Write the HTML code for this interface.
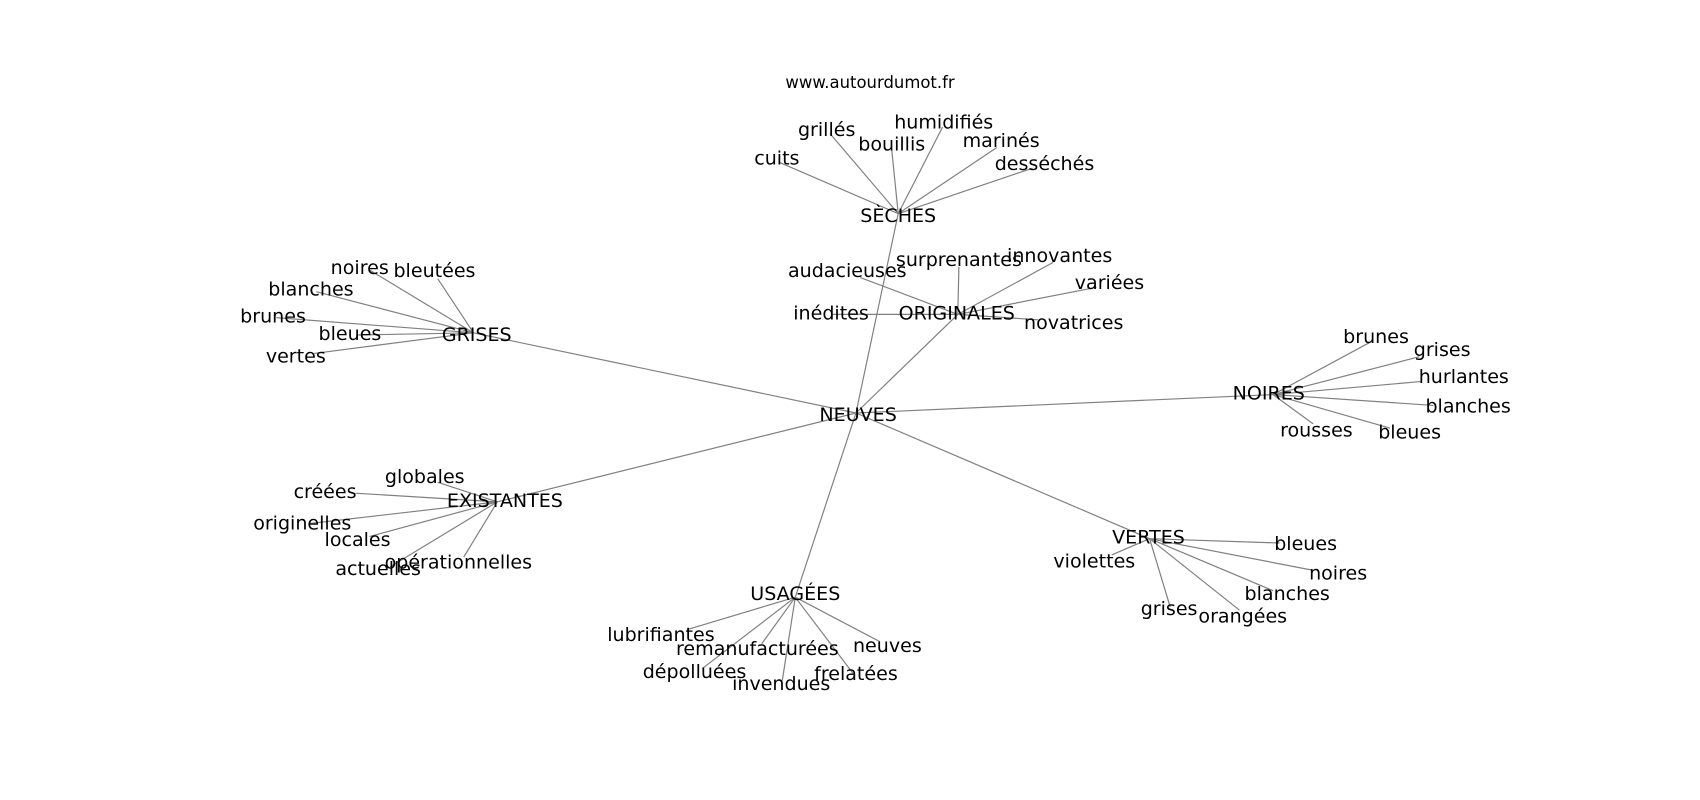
<!DOCTYPE html>
<html><head><meta charset="utf-8"><style>
html,body{margin:0;padding:0;background:#fff;}
svg{display:block}
text{font-family:"DejaVu Sans","Liberation Sans",sans-serif;font-size:17.6px;fill:#000;text-anchor:middle;dominant-baseline:central}
line{stroke:#808080;stroke-width:1.1}
</style></head><body>
<svg width="1700" height="800" viewBox="0 0 1569 738" xmlns="http://www.w3.org/2000/svg">
<g>
<line x1="790" y1="381" x2="829" y2="197"/>
<line x1="790" y1="381" x2="884" y2="290"/>
<line x1="790" y1="381" x2="437" y2="307"/>
<line x1="790" y1="381" x2="459" y2="463"/>
<line x1="790" y1="381" x2="734" y2="551"/>
<line x1="790" y1="381" x2="1061" y2="497"/>
<line x1="790" y1="381" x2="1175" y2="364"/>
<line x1="829" y1="197" x2="720" y2="150"/>
<line x1="829" y1="197" x2="766" y2="123"/>
<line x1="829" y1="197" x2="823" y2="138"/>
<line x1="829" y1="197" x2="870" y2="117"/>
<line x1="829" y1="197" x2="920" y2="136"/>
<line x1="829" y1="197" x2="953" y2="155"/>
<line x1="884" y1="290" x2="794" y2="256"/>
<line x1="884" y1="290" x2="885" y2="246"/>
<line x1="884" y1="290" x2="972" y2="242"/>
<line x1="884" y1="290" x2="1012" y2="265"/>
<line x1="884" y1="290" x2="768" y2="290"/>
<line x1="884" y1="290" x2="958" y2="295"/>
<line x1="437" y1="307" x2="341" y2="249"/>
<line x1="437" y1="307" x2="404" y2="257"/>
<line x1="437" y1="307" x2="292" y2="269"/>
<line x1="437" y1="307" x2="255" y2="293"/>
<line x1="437" y1="307" x2="329" y2="309"/>
<line x1="437" y1="307" x2="290" y2="326"/>
<line x1="459" y1="463" x2="404" y2="445"/>
<line x1="459" y1="463" x2="328" y2="455"/>
<line x1="459" y1="463" x2="286" y2="483"/>
<line x1="459" y1="463" x2="341" y2="495"/>
<line x1="459" y1="463" x2="360" y2="523"/>
<line x1="459" y1="463" x2="428" y2="514"/>
<line x1="734" y1="551" x2="634" y2="581"/>
<line x1="734" y1="551" x2="703" y2="594"/>
<line x1="734" y1="551" x2="648" y2="617"/>
<line x1="734" y1="551" x2="722" y2="628"/>
<line x1="734" y1="551" x2="787" y2="621"/>
<line x1="734" y1="551" x2="812" y2="592"/>
<line x1="1061" y1="497" x2="1181" y2="501"/>
<line x1="1061" y1="497" x2="1211" y2="526"/>
<line x1="1061" y1="497" x2="1175" y2="545"/>
<line x1="1061" y1="497" x2="1080" y2="560"/>
<line x1="1061" y1="497" x2="1144" y2="563"/>
<line x1="1061" y1="497" x2="1026" y2="512"/>
<line x1="1175" y1="364" x2="1264" y2="316"/>
<line x1="1175" y1="364" x2="1310" y2="329"/>
<line x1="1175" y1="364" x2="1311" y2="352"/>
<line x1="1175" y1="364" x2="1323" y2="374"/>
<line x1="1175" y1="364" x2="1283" y2="395"/>
<line x1="1175" y1="364" x2="1212" y2="391"/>
</g>
<text x="803" y="76" style="font-size:15.2px">www.autourdumot.fr</text>
<text x="792" y="383">NEUVES</text>
<text x="829" y="199">SÈCHES</text>
<text x="717" y="146">cuits</text>
<text x="763" y="120">grillés</text>
<text x="823" y="133">bouillis</text>
<text x="871" y="113">humidifiés</text>
<text x="924" y="130">marinés</text>
<text x="964" y="151">desséchés</text>
<text x="883" y="289">ORIGINALES</text>
<text x="782" y="250">audacieuses</text>
<text x="885" y="240">surprenantes</text>
<text x="978" y="236">innovantes</text>
<text x="1024" y="261">variées</text>
<text x="767" y="289">inédites</text>
<text x="991" y="298">novatrices</text>
<text x="440" y="309">GRISES</text>
<text x="332" y="247">noires</text>
<text x="401" y="250">bleutées</text>
<text x="287" y="267">blanches</text>
<text x="252" y="292">brunes</text>
<text x="323" y="308">bleues</text>
<text x="273" y="329">vertes</text>
<text x="466" y="462">EXISTANTES</text>
<text x="392" y="440">globales</text>
<text x="300" y="454">créées</text>
<text x="279" y="483">originelles</text>
<text x="330" y="498">locales</text>
<text x="349" y="525">actuelles</text>
<text x="423" y="519">opérationnelles</text>
<text x="734" y="548">USAGÉES</text>
<text x="610" y="586">lubrifiantes</text>
<text x="699" y="599">remanufacturées</text>
<text x="641" y="620">dépolluées</text>
<text x="721" y="631">invendues</text>
<text x="790" y="622">frelatées</text>
<text x="819" y="596">neuves</text>
<text x="1060" y="496">VERTES</text>
<text x="1205" y="502">bleues</text>
<text x="1235" y="529">noires</text>
<text x="1010" y="518">violettes</text>
<text x="1188" y="548">blanches</text>
<text x="1079" y="562">grises</text>
<text x="1147" y="569">orangées</text>
<text x="1171" y="363">NOIRES</text>
<text x="1270" y="311">brunes</text>
<text x="1331" y="323">grises</text>
<text x="1351" y="348">hurlantes</text>
<text x="1355" y="375">blanches</text>
<text x="1215" y="397">rousses</text>
<text x="1301" y="399">bleues</text>
</svg>
</body></html>
